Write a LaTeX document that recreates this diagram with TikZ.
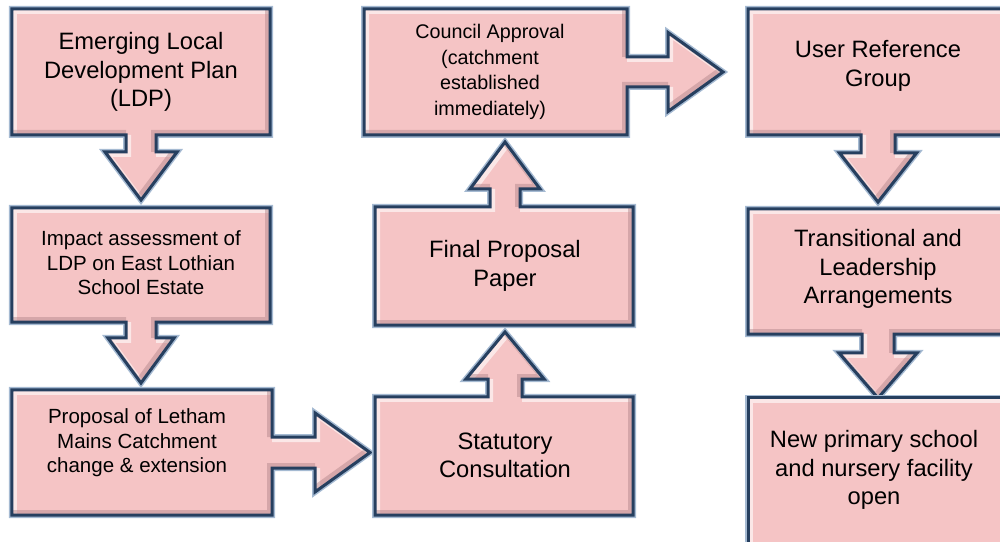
\documentclass[tikz,border=0pt]{standalone}
\usepackage{fontspec}
\setmainfont{Liberation Sans}
\usetikzlibrary{calc}
\definecolor{boxpink}{RGB}{245,196,197}
\definecolor{boxline}{RGB}{38,63,95}
\definecolor{boxglow}{RGB}{165,186,210}
\definecolor{boxshade}{RGB}{175,130,135}
\tikzset{
  glowline/.style={draw=boxglow, line width=6bp, line join=miter},
  edgeline/.style={draw=boxline, line width=3bp, line join=miter},
  boxarea/.style={rectangle, inner sep=0pt, outer sep=0pt, minimum width=#1},
  bigtxt/.style={align=center, inner sep=0pt, font=\fontsize{23.8}{28.4}\selectfont},
  smalltxt/.style={align=center, inner sep=0pt, font=\fontsize{20.6}{24.6}\selectfont},
  counciltxt/.style={align=center, inner sep=0pt, font=\fontsize{19.8}{25.6}\selectfont},
}
% draws one bevelled block from a path
\newcommand\drawblock[1]{%
  \path[glowline] #1;
  \fill[boxpink] #1;
  \begin{scope}
    \clip #1;
    \begin{scope}[transform canvas={xshift=2.5bp,yshift=-2.5bp}]
      \draw[white, line width=5bp, draw opacity=0.6] #1;
    \end{scope}
    \begin{scope}[transform canvas={xshift=-2.5bp,yshift=2.5bp}]
      \draw[boxshade, line width=5bp, draw opacity=0.45] #1;
    \end{scope}
  \end{scope}
  \path[edgeline] #1;}
% box with a down arrow: #1 box node, #2 tip, #3 shaft half width, #4 head half width, #5 head length
\newcommand\boxdown[5]{%
  \drawblock{let \p1=(#1.south), \p2=(#2) in
    (#1.north west) -- (#1.north east) -- (#1.south east) --
    (\x1+#3,\y1) -- (\x1+#3,\y2+#5) -- (\x1+#4,\y2+#5) -- (\x1,\y2) --
    (\x1-#4,\y2+#5) -- (\x1-#3,\y2+#5) -- (\x1-#3,\y1) --
    (#1.south west) -- cycle}}
\newcommand\boxup[5]{%
  \drawblock{let \p1=(#1.north), \p2=(#2) in
    (#1.south west) -- (#1.south east) -- (#1.north east) --
    (\x2+#3,\y1) -- (\x2+#3,\y2-#5) -- (\x2+#4,\y2-#5) -- (\x2,\y2) --
    (\x2-#4,\y2-#5) -- (\x2-#3,\y2-#5) -- (\x2-#3,\y1) --
    (#1.north west) -- cycle}}
\newcommand\boxright[5]{%
  \drawblock{let \p1=(#1.east), \p2=(#2) in
    (#1.north west) -- (#1.north east) --
    (\x1,\y1+#3) -- (\x2-#5,\y1+#3) -- (\x2-#5,\y1+#4) -- (\x2,\y1) --
    (\x2-#5,\y1-#4) -- (\x2-#5,\y1-#3) -- (\x1,\y1-#3) --
    (#1.south east) -- (#1.south west) -- cycle}}
\begin{document}
\begin{tikzpicture}[x=1bp,y=-1bp]
\useasboundingbox (0,0) rectangle (1000,542);
\clip (0,0) rectangle (1000,542);
% box areas
\node[boxarea=258bp, minimum height=126bp] (b1) at (141,72) {};
\node[boxarea=258bp, minimum height=114bp] (b2) at (141,265) {};
\node[boxarea=260bp, minimum height=125bp] (b3) at (142,452.5) {};
\node[boxarea=258bp, minimum height=118bp] (b4) at (504,456) {};
\node[boxarea=258bp, minimum height=118bp] (b5) at (504,266) {};
\node[boxarea=263bp, minimum height=126bp] (b6) at (495.5,72) {};
\node[boxarea=260bp, minimum height=126bp] (b7) at (878,72) {};
\node[boxarea=260bp, minimum height=125bp] (b8) at (878,271.5) {};
\node[boxarea=260bp, minimum height=152bp] (b9) at (878,474) {};
% arrow tips
\coordinate (t1) at (142,200);
\coordinate (t2) at (142,383);
\coordinate (t3) at (370,452.5);
\coordinate (t4) at (505,332);
\coordinate (t5) at (505,142);
\coordinate (t6) at (723,72);
\coordinate (t7) at (880,202);
\coordinate (t8) at (880,398);
% shapes
\boxdown{b1}{t1}{15bp}{36bp}{48bp}
\boxdown{b2}{t2}{15bp}{33bp}{45bp}
\boxright{b3}{t3}{15.5bp}{39.5bp}{55bp}
\boxup{b4}{t4}{17bp}{39bp}{47bp}
\boxup{b5}{t5}{15bp}{35bp}{47bp}
\boxright{b6}{t6}{15bp}{39.5bp}{55bp}
\boxdown{b7}{t7}{17bp}{38.5bp}{49bp}
\boxdown{b8}{t8}{16bp}{39bp}{45bp}
\drawblock{(b9.north west) rectangle (b9.south east)}
% texts
\node[bigtxt] (l1) at (141,72) {Emerging Local\\Development Plan\\(LDP)};
\node[smalltxt] (l2) at (141,263) {Impact assessment of\\LDP on East Lothian\\School Estate};
\node[smalltxt] (l3) at (137,443) {Proposal of Letham\\Mains Catchment\\change \& extension};
\node[bigtxt] (l4) at (505,455) {Statutory\\Consultation};
\node[bigtxt] (l5) at (505,266) {Final Proposal\\Paper};
\node[counciltxt] (l6) at (490,72) {Council Approval\\(catchment\\established\\immediately)};
\node[bigtxt] (l7) at (878,66) {User Reference\\Group};
\node[bigtxt] (l8) at (878,269) {Transitional and\\Leadership\\Arrangements};
\node[bigtxt] (l9) at (874,470) {New primary school\\and nursery facility\\open};
\end{tikzpicture}
\end{document}
